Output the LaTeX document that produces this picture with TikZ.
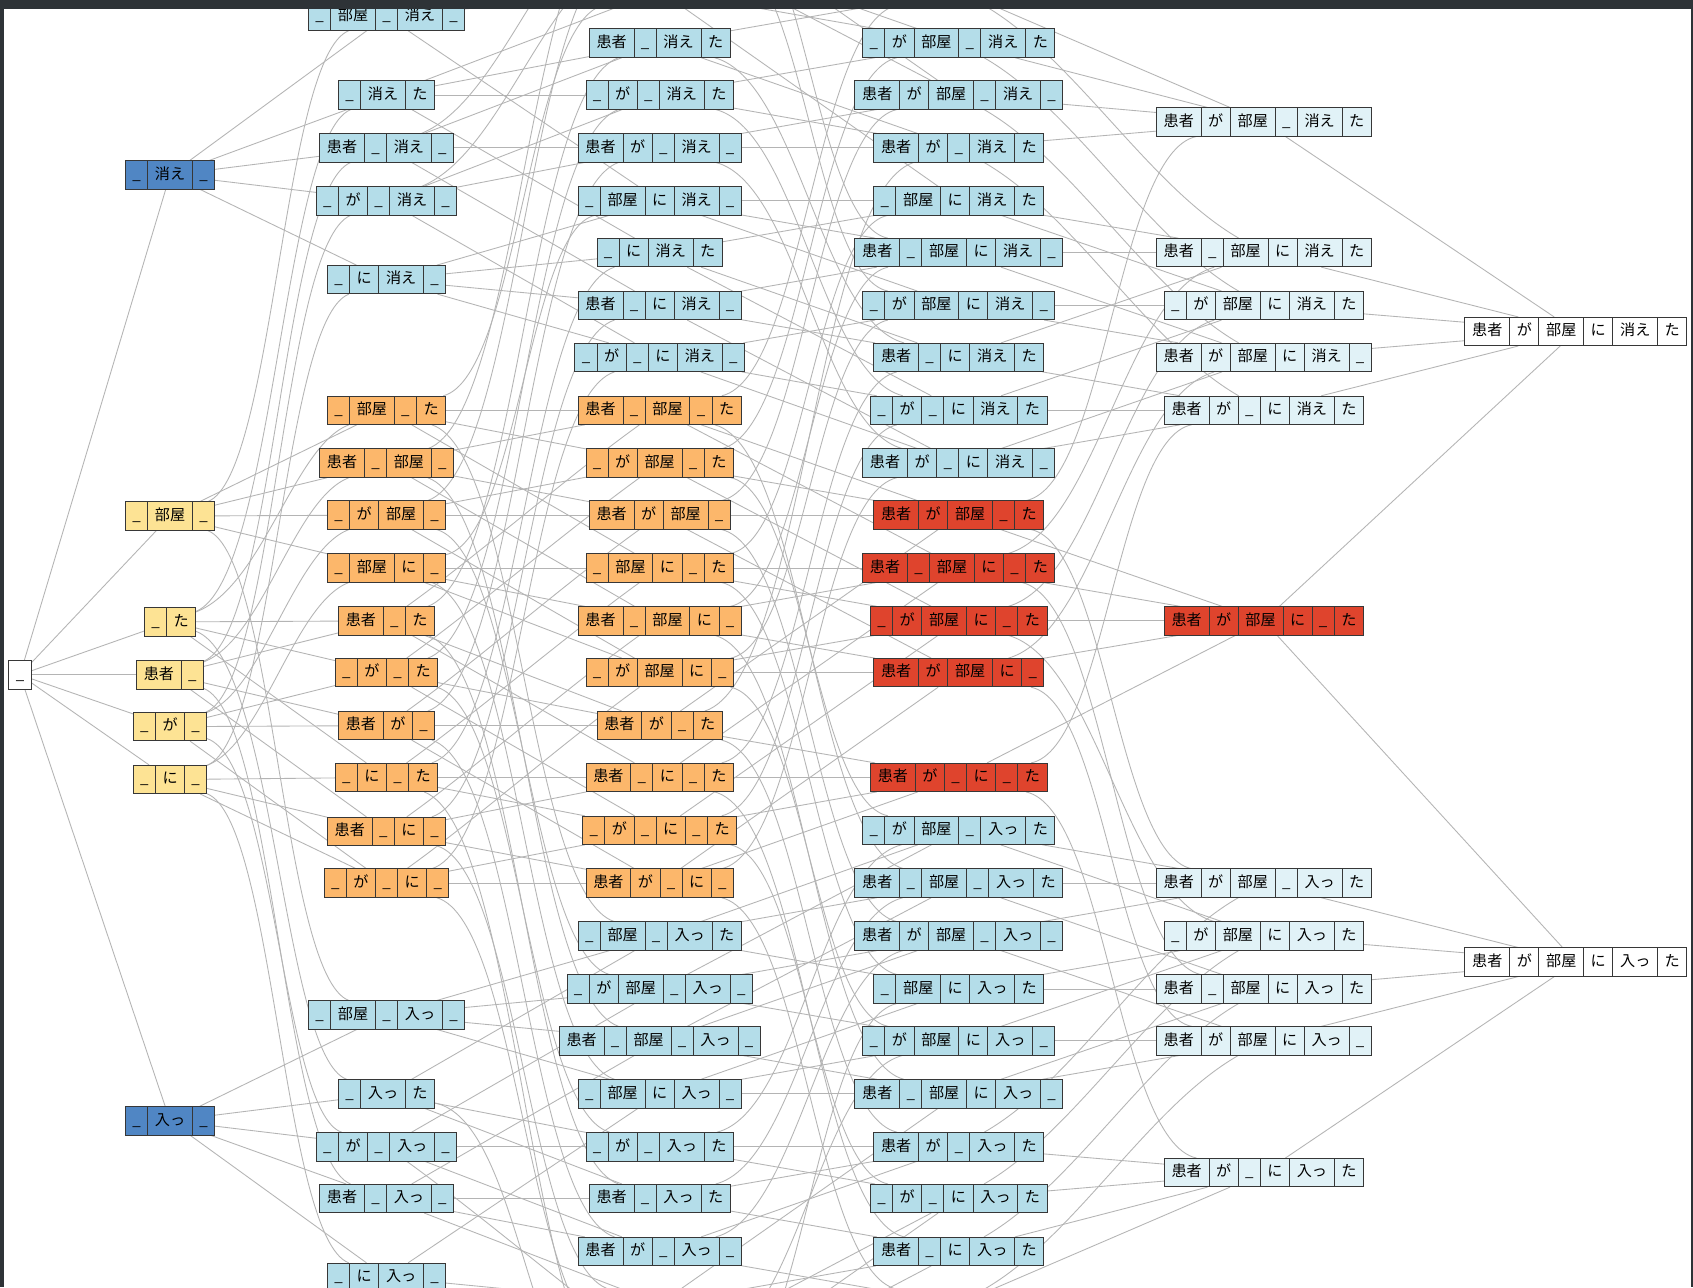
\documentclass[tikz,border=0pt]{standalone}
\usepackage{fontspec}
\newfontfamily\jp{Noto Sans CJK JP}
\pgfdeclarelayer{bg}
\pgfsetlayers{bg,main}
\definecolor{cDark}{RGB}{80,134,196}
\definecolor{cYel}{RGB}{253,227,148}
\definecolor{cOra}{RGB}{252,183,107}
\definecolor{cLB}{RGB}{180,221,233}
\definecolor{cRed}{RGB}{223,68,45}
\definecolor{cVL}{RGB}{225,242,247}
\definecolor{cEdge}{RGB}{180,180,180}
\definecolor{cBord}{RGB}{55,55,55}
\definecolor{cFrame}{RGB}{46,51,55}
\tikzset{
  cell/.style={draw=cBord,line width=0.9pt,minimum height=26.5pt,inner sep=0pt,
    text height=11pt,text depth=3pt,font=\jp\fontsize{14}{16}\selectfont},
  edgeline/.style={draw=cEdge,line width=0.8pt},
}
\newcount\levc
\newdimen\totw
\newif\ifprevhid
\def\setY#1#2{\expandafter\def\csname Y@#1\endcsname{#2}}
\def\verbtext#1{\if A#1消え\else 入っ\fi}
\def\addcell#1#2{\expandafter\def\expandafter\cellacc\expandafter{\cellacc\docell{#1}{#2}}\advance\totw by #1pt\relax}
\def\proc#1#2#3{\if0#1\ifprevhid\else\addcell{20.5}{\textunderscore}\prevhidtrue\fi\else\addcell{#2}{#3}\prevhidfalse\fi}
\def\cnt#1{\if0#1\else\advance\levc by 1\relax\fi}
\def\colX#1{\ifcase#1 18.5\or157.5\or358\or611\or888\or1170.5\or1459.5\fi}
\def\docell#1#2{\pgfmathsetmacro\cx{\curx+0.5*#1}\node[cell,fill=\fillc,minimum width=#1pt] at (\cx,\yc) {#2};\pgfmathsetmacro\curx{\curx+#1}}
\def\mkrec#1#2#3#4#5#6{%
  \def\cellacc{}\totw=0pt\prevhidfalse\levc=0
  \proc{#1}{41.5}{患者}\proc{#2}{27}{が}\proc{#3}{41.5}{部屋}\proc{#4}{27}{に}\proc{#5}{41.5}{\verbtext#5}\proc{#6}{27}{た}%
  \cnt#1\cnt#2\cnt#3\cnt#4\cnt#5\cnt#6%
  \edef\fillc{\if0#5\ifcase\levc white\or cYel\or cOra\or cOra\or cRed\else cRed\fi\else\ifcase\levc white\or cDark\or cLB\or cLB\or cLB\or cVL\else white\fi\fi}%
  \edef\xc{\colX{\the\levc}}%
  \edef\yc{\csname Y@#1#2#3#4#5#6\endcsname}%
  \node[inner sep=0pt,minimum width=\totw,minimum height=26.5pt] (n#1#2#3#4#5#6) at (\xc,\yc) {};%
  \pgfmathsetmacro\curx{\xc-0.5*\totw}%
  \ifdim\yc pt<-3pt\else\ifdim\yc pt>1200pt\else\cellacc\fi\fi}
\def\edg#1#2{%
  \pgfpointanchor{n#1}{center}\pgfgetlastxy\xa\ya
  \pgfpointanchor{n#2}{center}\pgfgetlastxy\xb\yb
  \pgfmathsetmacro\ddx{\xb-\xa}%
  \pgfmathsetmacro\ddy{\yb-\ya}%
  \pgfmathsetmacro\kk{(\xa>100)*(\xa<1000)*min(1,max(0,(abs(\ddy)/\ddx-0.75)/0.35))}%
  \pgfmathsetmacro\pax{\xa+\ddx*(0.3333+0.1467*\kk)}%
  \pgfmathsetmacro\pay{\ya+\ddy*(0.3333-0.2533*\kk)}%
  \pgfmathsetmacro\pbx{\xa+\ddx*(0.6667-0.1467*\kk)}%
  \pgfmathsetmacro\pby{\ya+\ddy*(0.6667+0.2533*\kk)}%
  \draw[edgeline] (n#1) .. controls (\pax pt,\pay pt) and (\pbx pt,\pby pt) .. (n#2);}
% level 0
\setY{000000}{625}
% level 1
\setY{0000A0}{162}\setY{001000}{478}\setY{000001}{576}\setY{100000}{625}
\setY{010000}{673}\setY{000100}{722}\setY{0000B0}{1038}
% level 2
\setY{0010A0}{15}\setY{0000A1}{88}\setY{1000A0}{137}\setY{0100A0}{186}\setY{0001A0}{259}
\setY{001001}{380}\setY{101000}{429}\setY{011000}{477}\setY{001100}{526}\setY{100001}{575}
\setY{010001}{623}\setY{110000}{672}\setY{000101}{720}\setY{100100}{770}\setY{010100}{818}
\setY{0010B0}{940}\setY{0000B1}{1013}\setY{0100B0}{1062}\setY{1000B0}{1110}\setY{0001B0}{1183}
% level 3
\setY{1010A0}{-105.5}\setY{0110A0}{-57}\setY{0010A1}{-8.5}
\setY{1000A1}{40}\setY{0100A1}{88}\setY{1100A0}{137}\setY{0011A0}{186}\setY{0001A1}{234}
\setY{1001A0}{283}\setY{0101A0}{331}
\setY{101001}{380}\setY{011001}{429}\setY{111000}{477}\setY{001101}{526}\setY{101100}{575}
\setY{011100}{623}\setY{110001}{672}\setY{100101}{720}\setY{010101}{769}\setY{110100}{818}
\setY{0010B1}{867}\setY{0110B0}{916}\setY{1010B0}{964}\setY{0011B0}{1013}\setY{0100B1}{1062}
\setY{1000B1}{1110}\setY{1100B0}{1159}
\setY{1001B0}{1207.5}\setY{0101B0}{1256}\setY{0001B1}{1304.5}
% level 4
\setY{1010A1}{-8.5}
\setY{0110A1}{40}\setY{1110A0}{88}\setY{1100A1}{137}\setY{0011A1}{186}\setY{1011A0}{234}
\setY{0111A0}{283}\setY{1001A1}{331}\setY{0101A1}{380}\setY{1101A0}{429}
\setY{111001}{477}\setY{101101}{526}\setY{011101}{575}\setY{111100}{623}\setY{110101}{720}
\setY{0110B1}{769}\setY{1010B1}{818}\setY{1110B0}{867}\setY{0011B1}{916}\setY{0111B0}{964}
\setY{1011B0}{1013}\setY{1100B1}{1062}\setY{0101B1}{1110}\setY{1001B1}{1159}
\setY{1101B0}{1207.5}
% level 5
\setY{1110A1}{113}\setY{1011A1}{234}\setY{0111A1}{283}\setY{1111A0}{331}\setY{1101A1}{380}
\setY{111101}{575}
\setY{1110B1}{818}\setY{0111B1}{867}\setY{1011B1}{916}\setY{1111B0}{964}\setY{1101B1}{1086}
% level 6
\setY{1111A1}{307}\setY{1111B1}{891}
\begin{document}
\begin{tikzpicture}[x=1pt,y=-1pt]
\useasboundingbox (0,0) rectangle (1568,1192);
\begin{scope}
\clip (0,0) rectangle (1568,1192);
\foreach \a in {0,1}{\foreach \b in {0,1}{\foreach \c in {0,1}{\foreach \d in {0,1}{%
\foreach \v in {0,A,B}{\foreach \f in {0,1}{%
  \edef\nm{\a\b\c\d\v\f}\expandafter\mkrec\nm
}}}}}}
\end{scope}
\begin{pgfonlayer}{bg}
\fill[white] (0,0) rectangle (1568,1192);
\begin{scope}
\clip (0,0) rectangle (1568,1192);
\foreach \a in {0,1}{\foreach \b in {0,1}{\foreach \c in {0,1}{\foreach \d in {0,1}{%
\foreach \v in {0,A,B}{\foreach \f in {0,1}{%
  \edef\nm{\a\b\c\d\v\f}%
  \if0\a \edg{\nm}{1\b\c\d\v\f}\fi
  \if0\b \edg{\nm}{\a 1\c\d\v\f}\fi
  \if0\c \edg{\nm}{\a\b 1\d\v\f}\fi
  \if0\d \edg{\nm}{\a\b\c 1\v\f}\fi
  \if0\f \edg{\nm}{\a\b\c\d\v 1}\fi
  \if0\v \edg{\nm}{\a\b\c\d A\f}\edg{\nm}{\a\b\c\d B\f}\fi
}}}}}}
\end{scope}
\end{pgfonlayer}
\fill[cFrame] (0,0) rectangle (1568,8);
\fill[cFrame] (0,0) rectangle (4,1192);
\fill[cFrame] (1566,0) rectangle (1568,1192);
\end{tikzpicture}
\end{document}
